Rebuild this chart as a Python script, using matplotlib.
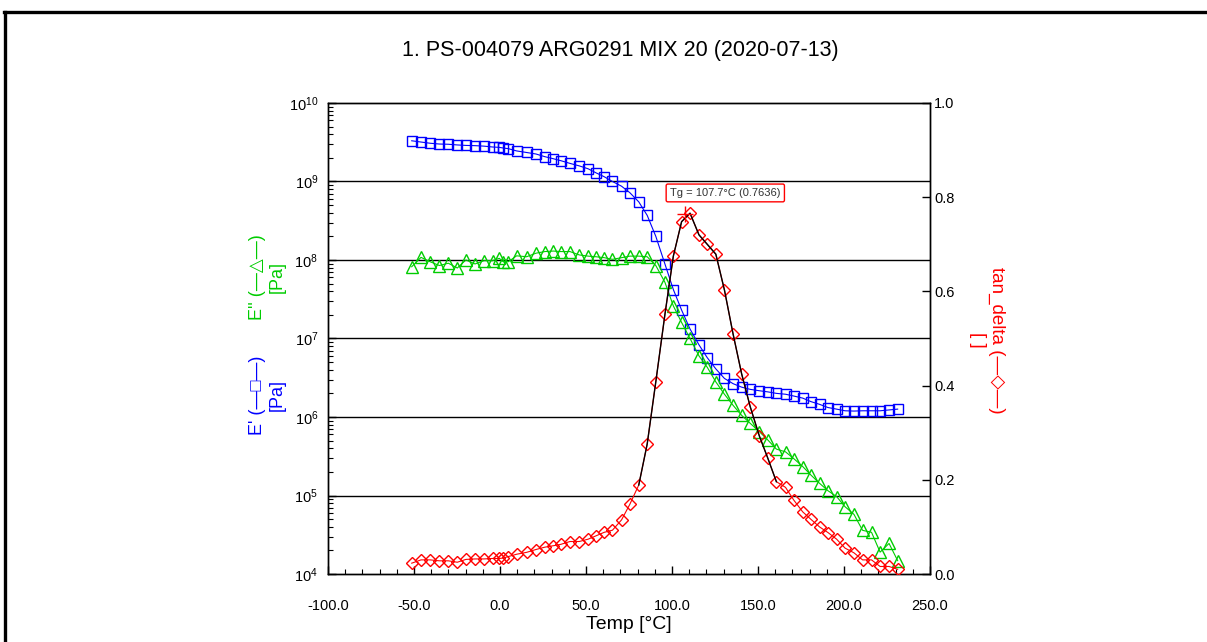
import matplotlib
matplotlib.use('Agg')
import matplotlib.pyplot as plt
from matplotlib.lines import Line2D
from matplotlib.ticker import MultipleLocator, LogLocator, NullFormatter, FormatStrFormatter

plt.rcParams['font.family'] = ['Liberation Sans', 'DejaVu Sans']

title = '1. PS-004079 ARG0291 MIX 20 (2020-07-13)'

temp = [-51.3, -45.9, -40.6, -35.2, -30.0, -24.8, -19.8, -14.5, -9.3, -4.3,
        -0.4, 1.9, 4.8, 9.7, 15.5, 20.9, 26.1, 31.0, 35.4, 40.7,
        46.1, 51.3, 55.8, 60.6, 65.4, 70.7, 75.5, 80.7, 85.6, 90.6,
        95.9, 100.8, 105.6, 110.5, 115.7, 120.5, 125.5, 130.5, 135.5, 140.5,
        145.5, 150.8, 155.7, 160.7, 166.0, 170.8, 176.0, 180.8, 185.8, 190.7,
        195.7, 200.6, 205.8, 210.8, 216.0, 221.0, 226.2, 231.2]

e_storage = [3.3e9, 3.18e9, 3.07e9, 3.0e9, 2.98e9, 2.92e9, 2.88e9, 2.86e9, 2.82e9, 2.75e9,
             2.72e9, 2.67e9, 2.62e9, 2.45e9, 2.34e9, 2.24e9, 2.07e9, 1.95e9, 1.84e9, 1.70e9,
             1.58e9, 1.45e9, 1.29e9, 1.15e9, 1.0e9, 8.7e8, 7.2e8, 5.5e8, 3.7e8, 2.0e8,
             8.9e7, 4.2e7, 2.3e7, 1.32e7, 8.3e6, 5.7e6, 4.1e6, 3.1e6, 2.66e6, 2.4e6,
             2.25e6, 2.16e6, 2.09e6, 2.0e6, 1.95e6, 1.85e6, 1.74e6, 1.57e6, 1.45e6, 1.32e6,
             1.26e6, 1.2e6, 1.19e6, 1.2e6, 1.2e6, 1.2e6, 1.23e6, 1.26e6]

e_loss = [8.2e7, 1.08e8, 9.5e7, 8.5e7, 9.1e7, 7.9e7, 1.0e8, 8.9e7, 9.8e7, 9.8e7,
          1.05e8, 9.5e7, 9.5e7, 1.13e8, 1.1e8, 1.22e8, 1.28e8, 1.3e8, 1.28e8, 1.28e8,
          1.16e8, 1.12e8, 1.1e8, 1.07e8, 1.02e8, 1.07e8, 1.12e8, 1.12e8, 1.1e8, 8.5e7,
          5.2e7, 2.6e7, 1.6e7, 1.0e7, 6.0e6, 4.3e6, 2.8e6, 1.95e6, 1.41e6, 1.05e6,
          8.3e5, 6.5e5, 5.1e5, 3.9e5, 3.6e5, 2.95e5, 2.34e5, 1.82e5, 1.43e5, 1.15e5,
          9.7e4, 7.2e4, 5.75e4, 3.6e4, 3.4e4, 1.9e4, 2.45e4, 1.48e4]

tan_delta = [0.023, 0.030, 0.030, 0.028, 0.028, 0.025, 0.031, 0.032, 0.032, 0.033,
             0.033, 0.034, 0.037, 0.042, 0.046, 0.052, 0.057, 0.060, 0.063, 0.069,
             0.069, 0.074, 0.081, 0.0885, 0.093, 0.115, 0.148, 0.189, 0.276, 0.408,
             0.551, 0.675, 0.748, 0.766, 0.720, 0.700, 0.679, 0.603, 0.510, 0.425,
             0.355, 0.293, 0.246, 0.196, 0.184, 0.157, 0.132, 0.116, 0.100, 0.088,
             0.074, 0.055, 0.045, 0.030, 0.030, 0.016, 0.016, 0.010]

# fitted peak range and Tg result
fit_range = (80.0, 161.0)
tg_temp = 107.7
tg_value = 0.7636

BLUE = '#0000ff'
GREEN = '#00cc00'
RED = '#ff0000'

fig = plt.figure(figsize=(12.07, 6.42), dpi=100)
ax = fig.add_axes([0.2717, 0.1059, 0.4988, 0.7337])
ax2 = ax.twinx()

ax.set_yscale('log')
ax.set_ylim(1e4, 1e10)
ax.set_xlim(-100, 250)
ax2.set_ylim(0, 1.0)

for v in [1e5, 1e6, 1e7, 1e8, 1e9]:
    ax.axhline(v, color='black', lw=1.0, zorder=1)

ax.plot(temp, e_storage, color=BLUE, lw=0.8, marker='s', ms=7, mfc='none',
        mec=BLUE, mew=1.0, zorder=3)
ax.plot(temp, e_loss, color=GREEN, lw=0.8, marker='^', ms=8, mfc='none',
        mec=GREEN, mew=1.0, zorder=3)
ax2.plot(temp, tan_delta, color=RED, lw=0.8, marker='D', ms=6.5, mfc='none',
         mec=RED, mew=1.0, zorder=3)

fit_t = [t for t in temp if fit_range[0] <= t <= fit_range[1]]
fit_v = [v for t, v in zip(temp, tan_delta) if fit_range[0] <= t <= fit_range[1]]
ax2.plot(fit_t, fit_v, color='black', lw=1.0, zorder=4)
ax2.plot([tg_temp], [tg_value], marker='+', color=RED, ms=12, mew=1.0, zorder=5)
ax2.text(131, 0.809, f'Tg = {tg_temp:.1f}°C ({tg_value:.4f})', fontsize=8,
         ha='center', va='center', color='#333333',
         bbox=dict(boxstyle='round,pad=0.35,rounding_size=0.15', fc='white', ec=RED, lw=1.0))

ax.xaxis.set_major_locator(MultipleLocator(50))
ax.xaxis.set_minor_locator(MultipleLocator(10))
ax.xaxis.set_major_formatter(FormatStrFormatter('%.1f'))
ax.yaxis.set_major_locator(LogLocator(base=10, numticks=10))
ax.yaxis.set_minor_locator(LogLocator(base=10, subs=range(2, 10), numticks=100))
ax.yaxis.set_minor_formatter(NullFormatter())
ax2.yaxis.set_major_locator(MultipleLocator(0.2))
ax2.yaxis.set_major_formatter(FormatStrFormatter('%.1f'))

ax.tick_params(axis='y', which='major', direction='in', length=6, width=1.0,
               labelsize=10.5, right=False, pad=7)
ax.tick_params(axis='x', which='major', direction='in', length=6, width=1.0,
               labelsize=10.5, top=False, pad=18)
ax.tick_params(axis='both', which='minor', direction='in', length=3.5, width=0.8,
               top=False, right=False)
ax2.tick_params(axis='y', which='major', direction='in', length=6, width=1.0,
                labelsize=10.5, pad=3)

ax.set_xlabel('Temp [°C]', fontsize=14, labelpad=2)
for a in (ax, ax2):
    for s in a.spines.values():
        s.set_linewidth(1.0)

fig.text(0.2215, 0.385, "E' (—□—)\n[Pa]", rotation=90, color=BLUE, fontsize=13,
         ha='center', va='center', multialignment='center')
fig.text(0.2215, 0.569, "E'' (—△—)\n[Pa]", rotation=90, color=GREEN, fontsize=13,
         ha='center', va='center', multialignment='center')
fig.text(0.8177, 0.4704, 'tan_delta (—◇—)\n[ ]', rotation=270, color=RED, fontsize=13.5,
         ha='center', va='center', multialignment='center')

fig.text(0.514, 0.922, title, fontsize=15.5, ha='center', va='center')

# outer frame (top and left edges)
fig.add_artist(Line2D([0.003, 1.0], [0.982, 0.982], transform=fig.transFigure,
                      color='black', lw=2.4))
fig.add_artist(Line2D([0.0045, 0.0045], [0.0, 0.982], transform=fig.transFigure,
                      color='black', lw=2.4))

fig.savefig('out.png', dpi=100)
